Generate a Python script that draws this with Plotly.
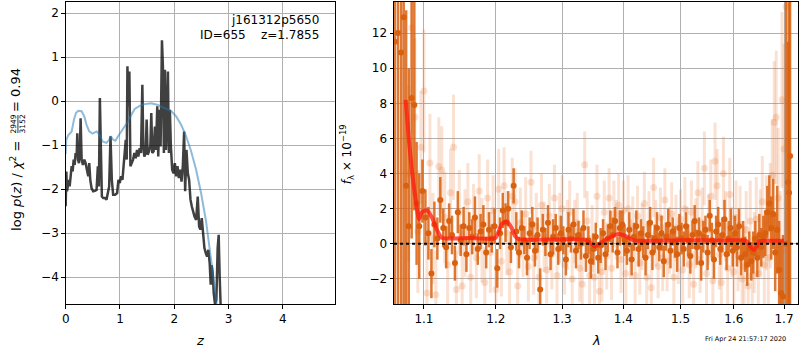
import plotly.graph_objects as go

# ---------------- Left panel: log p(z) ----------------
z_pz = [0.000, 0.012, 0.024, 0.043, 0.061, 0.073, 0.092, 0.110, 0.128, 0.147,
        0.165, 0.183, 0.202, 0.214, 0.226, 0.245, 0.263, 0.275, 0.294, 0.318,
        0.343, 0.367, 0.391, 0.416, 0.434, 0.453, 0.477, 0.508, 0.538, 0.569,
        0.593, 0.612, 0.630, 0.648, 0.667, 0.691, 0.722, 0.752, 0.783, 0.801,
        0.826, 0.850, 0.875, 0.911, 0.948, 0.972, 0.997, 1.021, 1.046, 1.070,
        1.089, 1.107, 1.125, 1.138, 1.156, 1.174, 1.193, 1.217, 1.242, 1.266,
        1.291, 1.315, 1.339, 1.364, 1.388, 1.413, 1.431, 1.450, 1.474, 1.492,
        1.511, 1.535, 1.560, 1.578, 1.596, 1.621, 1.645, 1.664, 1.688, 1.706,
        1.731, 1.749, 1.774, 1.792, 1.810, 1.829, 1.847, 1.865, 1.884, 1.902,
        1.920, 1.939, 1.963, 1.988, 2.012, 2.037, 2.061, 2.086, 2.110, 2.135,
        2.159, 2.183, 2.202, 2.226, 2.251, 2.275, 2.300, 2.324, 2.349, 2.373,
        2.404, 2.434, 2.459, 2.483, 2.508, 2.532, 2.557, 2.581, 2.606, 2.630,
        2.654, 2.673, 2.691, 2.710, 2.728, 2.752, 2.777, 2.801, 2.820, 2.838,
        2.856, 2.893]
logp = [-2.39, -1.60, -2.05, -1.90, -1.79, -1.94, -1.64, -1.48, -1.60, -1.33,
        -1.45, -1.18, -1.26, -0.73, -1.33, -1.41, -1.03, -0.39, -1.33, -1.45,
        -1.33, -1.41, -1.56, -1.71, -1.41, -1.79, -1.98, -2.05, -2.04, -2.02,
        -1.48, -1.94, 0.07, -0.88, -2.17, -2.20, -2.20, -2.24, -2.09, -1.94,
        -0.80, -1.79, -2.13, -2.13, -2.09, -1.79, -1.86, -1.71, -1.79, -1.48,
        -1.26, -0.88, -1.33, 0.79, -0.12, 0.67, -1.48, -1.41, -1.33, -1.18,
        -1.30, -1.11, -1.26, -1.07, -1.18, 0.37, -1.03, -1.26, -1.18, -0.42,
        -1.22, -1.14, -1.03, -0.27, -1.18, -1.14, -0.58, -1.11, -0.12, -1.26,
        -0.20, -1.03, 1.38, 0.79, -1.18, 0.71, -1.11, -0.58, 0.67, -1.18,
        -0.20, -1.03, -1.56, -1.64, -1.41, -1.71, -1.48, -1.75, -1.56, -1.83,
        -1.48, -0.69, -2.05, -1.11, -1.64, -1.79, -2.24, -2.39, -2.55, -2.62,
        -2.70, -2.17, -2.85, -2.92, -2.66, -3.00, -3.34, -3.45, -3.53, -3.38,
        -3.68, -4.17, -3.73, -3.91, -4.36, -4.61, -4.52, -3.34, -3.04, -3.98,
        -4.97, -6.00]

z_prior = [0.000, 0.012, 0.049, 0.110, 0.153, 0.190, 0.232, 0.294, 0.343, 0.385,
           0.434, 0.495, 0.569, 0.630, 0.679, 0.752, 0.801, 0.832, 0.875, 0.917,
           0.966, 1.028, 1.089, 1.150, 1.211, 1.272, 1.364, 1.456, 1.578, 1.700,
           1.823, 1.945, 2.037, 2.128, 2.220, 2.312, 2.404, 2.495, 2.587, 2.661,
           2.728, 2.789, 2.862]
logp_prior = [-1.20, -0.88, -0.77, -0.69, -0.42, -0.27, -0.22, -0.23, -0.35, -0.54,
              -0.69, -0.74, -0.69, -0.77, -0.92, -0.95, -0.88, -0.80, -0.88, -0.90,
              -0.80, -0.69, -0.58, -0.46, -0.31, -0.18, -0.11, -0.07, -0.05, -0.09,
              -0.16, -0.23, -0.35, -0.54, -0.80, -1.14, -1.56, -2.09, -2.73, -3.38,
              -4.06, -4.67, -5.35]

# ---------------- Right panel: spectrum ----------------
# light (low weight) points
lam_light = [1.080, 1.084, 1.088, 1.092, 1.096, 1.100, 1.104, 1.108, 1.112, 1.116,
             1.120, 1.124, 1.128, 1.132, 1.136, 1.140, 1.144, 1.148, 1.152, 1.156,
             1.160, 1.164, 1.168, 1.172, 1.176, 1.180, 1.184, 1.188, 1.192, 1.196,
             1.200, 1.204, 1.208, 1.212, 1.216, 1.220, 1.224, 1.228, 1.232, 1.236,
             1.240, 1.244, 1.248, 1.252, 1.256, 1.260, 1.264, 1.268, 1.272, 1.276,
             1.280, 1.284, 1.288, 1.292, 1.296, 1.300, 1.304, 1.308, 1.312, 1.316,
             1.320, 1.324, 1.328, 1.332, 1.336, 1.340, 1.344, 1.348, 1.352, 1.356,
             1.360, 1.364, 1.368, 1.372, 1.376, 1.380, 1.384, 1.388, 1.392, 1.396,
             1.400, 1.404, 1.408, 1.412, 1.416, 1.420, 1.424, 1.428, 1.432, 1.436,
             1.440, 1.444, 1.448, 1.452, 1.456, 1.460, 1.464, 1.468, 1.472, 1.476,
             1.480, 1.484, 1.488, 1.492, 1.496, 1.500, 1.504, 1.508, 1.512, 1.516,
             1.520, 1.524, 1.528, 1.532, 1.536, 1.540, 1.544, 1.548, 1.552, 1.556,
             1.560, 1.564, 1.568, 1.572, 1.576, 1.580, 1.584, 1.588, 1.592, 1.596,
             1.600, 1.604, 1.608, 1.612, 1.616, 1.620, 1.624, 1.628, 1.632, 1.636,
             1.640, 1.644, 1.648, 1.652, 1.656, 1.660, 1.664, 1.668, 1.672, 1.676,
             1.680, 1.684, 1.688, 1.692, 1.696, 1.700, 1.704]
flux_light = [4.0, 12.3, 7.2, 0.7, 5.5, 8.7, -2.8, 4.6, 0.3, -2.9,
              4.4, 4.2, 1.5, -1.2, 2.9, 5.5, -2.6, 1.8, -2.4, 0.6,
              2.4, -1.9, 1.4, -0.8, 3.0, 0.2, -2.2, 2.6, -0.5, 1.9,
              -2.6, 3.1, -1.0, 3.3, 0.6, -1.6, 2.7, 2.4, -2.4, 1.2,
              0.0, 1.7, -1.3, 3.5, -0.8, 1.0, -1.9, 2.2, 0.4, -1.5,
              1.6, -0.6, 2.6, -1.8, 0.9, 2.0, -1.2, 0.5, 1.8, -2.0,
              0.7, 1.2, -1.4, -2.3, 4.5, 1.3, -1.8, 0.3, -1.9, 2.7,
              -2.7, -1.6, 1.8, -0.7, 2.6, -1.4, 1.7, 0.8, 2.2, -0.9,
              1.9, -1.7, 2.0, -0.3, 0.9, -1.8, 1.6, -1.1, 0.4, 2.3,
              -1.9, 1.1, -2.5, 3.2, 0.6, -1.3, 1.5, -0.8, 2.5, -1.0,
              0.2, 1.7, -1.9, 0.9, -0.5, 1.4, -1.5, 2.0, 0.4, -1.2,
              1.8, -2.3, 0.6, 2.9, -0.9, 1.2, 4.3, -1.7, 0.8, 2.7,
              -2.1, 4.7, 3.3, -0.6, -2.2, 4.0, 1.0, -1.4, 2.8, 0.1,
              -1.6, 1.5, -0.7, 1.1, -2.0, -1.3, 0.8, -2.4, 1.3, -1.8,
              -0.5, 1.4, -1.7, 0.6, 2.4, -1.2, 1.2, -0.8, 1.6, 3.9,
              6.9, 7.2, 2.6, -1.5, 8.2, 5.4, 13.5]
err_light = [5.0, 6.0, 4.5, 3.5, 3.2, 3.5, 3.0, 2.8, 2.6, 2.5,
             2.8, 2.5, 2.6, 2.4, 2.5, 3.0, 2.2, 2.4, 2.3, 2.5,
             2.2, 2.4, 2.0, 2.3, 2.1, 2.4, 2.0, 2.2, 2.3, 2.0,
             2.1, 2.3, 2.0, 2.2, 2.4, 2.0, 2.2, 1.9, 2.1, 2.0,
             1.9, 2.1, 2.0, 1.8, 2.1, 1.9, 2.0, 1.8, 2.0, 1.9,
             1.8, 2.0, 1.9, 1.8, 2.0, 1.9, 1.7, 2.0, 1.8, 1.9,
             1.8, 1.7, 1.9, 1.8, 1.9, 1.7, 1.8, 1.9, 1.7, 1.8,
             1.9, 1.7, 1.8, 1.9, 1.7, 1.8, 1.9, 1.7, 1.8, 1.9,
             1.7, 1.8, 1.9, 1.7, 1.8, 1.9, 1.7, 1.8, 1.9, 1.8,
             1.7, 1.9, 1.8, 1.7, 1.9, 1.8, 1.7, 1.9, 1.8, 1.7,
             1.9, 1.8, 1.7, 1.9, 1.8, 1.7, 1.9, 1.8, 1.7, 1.9,
             1.8, 1.9, 2.0, 1.8, 1.9, 2.0, 2.1, 1.9, 2.0, 2.1,
             2.0, 2.2, 2.1, 2.0, 2.2, 2.1, 2.0, 2.2, 2.1, 2.0,
             2.2, 2.1, 2.0, 2.2, 2.1, 2.3, 2.2, 2.1, 2.3, 2.2,
             2.3, 2.4, 2.2, 2.5, 2.6, 2.4, 2.7, 2.8, 3.0, 3.2,
             3.5, 3.8, 4.0, 4.5, 5.0, 6.0, 8.0]

# dark (main) points
lam_dark = [1.062, 1.066, 1.070, 1.0734, 1.0766, 1.080, 1.0838, 1.0873, 1.0903, 1.0938,
            1.098, 1.102, 1.106, 1.110, 1.114, 1.118, 1.122, 1.126, 1.130, 1.134,
            1.138, 1.142, 1.146, 1.150, 1.154, 1.158, 1.162, 1.166, 1.170, 1.174,
            1.178, 1.182, 1.186, 1.190, 1.194, 1.198, 1.202, 1.206, 1.210, 1.214,
            1.218, 1.222, 1.226, 1.230, 1.234, 1.238, 1.242, 1.246, 1.250, 1.254,
            1.258, 1.262, 1.266, 1.270, 1.274, 1.278, 1.282, 1.286, 1.290, 1.294,
            1.298, 1.302, 1.306, 1.310, 1.314, 1.318, 1.322, 1.326, 1.330, 1.334,
            1.338, 1.342, 1.346, 1.350, 1.354, 1.358, 1.362, 1.366, 1.370, 1.374,
            1.378, 1.382, 1.386, 1.390, 1.394, 1.398, 1.402, 1.406, 1.410, 1.414,
            1.418, 1.422, 1.426, 1.430, 1.434, 1.438, 1.442, 1.446, 1.450, 1.454,
            1.458, 1.462, 1.466, 1.470, 1.474, 1.478, 1.482, 1.486, 1.490, 1.494,
            1.498, 1.502, 1.506, 1.510, 1.514, 1.518, 1.522, 1.526, 1.530, 1.534,
            1.538, 1.542, 1.546, 1.550, 1.554, 1.558, 1.562, 1.566, 1.570, 1.574,
            1.578, 1.582, 1.586, 1.590, 1.594, 1.598, 1.602, 1.606, 1.610, 1.614,
            1.618, 1.622, 1.626, 1.630, 1.634, 1.638, 1.642, 1.646, 1.650, 1.654,
            1.658, 1.662, 1.666, 1.670, 1.674, 1.678, 1.682, 1.686, 1.690, 1.694,
            1.698, 1.7045, 1.7085, 1.7104, 1.7125]
flux_dark = [11.5, 12.0, 10.9, 12.9, 3.3, 1.0, 8.3, 7.9, 2.3, 1.0,
             3.0, 1.5, 0.6, -1.7, 1.1, 0.3, 2.5, 0.9, -0.2, 1.3,
             0.5, -1.1, 1.8, 0.2, 1.0, -0.6, 0.9, 0.4, 1.5, -0.3,
             0.7, 1.1, -0.5, 0.8, 0.3, 1.0, -1.4, 0.6, 1.9, 1.2,
             2.0, -0.2, 3.3, 0.7, -0.5, 0.9, 0.2, -0.8, 0.6, 1.1,
             -0.4, 0.5, -2.6, 0.8, 0.1, 1.2, -0.6, 0.4, 0.9, -0.3,
             0.6, 0.2, -0.9, 0.8, 0.3, 1.1, -0.4, 0.5, 0.0, 0.9,
             -0.7, 0.2, -1.0, -0.3, 0.4, -0.8, -0.1, 0.6, -0.6, 0.3,
             1.0, 0.5, 1.3, -0.5, 0.9, 1.1, 0.2, -0.4, 0.8, -0.9,
             0.4, 1.0, -0.3, 0.6, 0.1, -0.8, 0.5, 1.2, -0.5, 0.3,
             0.9, -0.2, 0.6, -1.0, 0.4, 1.1, -0.4, 0.7, 0.1, -0.6,
             0.9, 0.3, -0.3, 1.0, 0.2, -0.7, 0.5, 1.3, -0.2, 0.6,
             -1.1, 0.4, 0.8, -0.5, 1.6, 0.2, -0.9, 0.7, 1.1, -0.3,
             0.5, 1.4, -0.6, 0.3, 0.9, -0.4, 0.6, -0.2, 1.0, -0.8,
             0.2, -0.6, -1.2, -0.3, -1.0, -0.5, 0.3, -0.8, 0.5, -0.2,
             0.4, 0.6, 1.8, 2.3, 0.9, 1.7, -0.5, 0.8, -1.5, -2.8,
             -3.0, 0.0, 3.5, 2.9, 5.0]
err_dark = [20, 20, 15, 18, 10, 9, 8, 6, 3.5, 3.0,
            1.8, 1.6, 1.5, 1.4, 1.3, 1.2, 1.3, 1.1, 1.2, 1.0,
            1.1, 1.0, 1.2, 0.9, 1.1, 1.0, 0.9, 1.0, 1.2, 0.9,
            1.0, 1.1, 0.9, 1.0, 0.8, 1.0, 1.1, 0.9, 1.0, 1.1,
            1.0, 0.9, 1.0, 1.1, 0.9, 1.0, 0.8, 1.0, 0.9, 1.0,
            0.9, 1.0, 1.2, 0.9, 0.8, 1.0, 0.9, 1.0, 0.8, 0.9,
            1.0, 0.8, 0.9, 1.0, 0.8, 0.9, 1.0, 0.8, 0.9, 1.0,
            0.9, 0.8, 1.0, 0.9, 0.8, 0.9, 1.0, 0.8, 0.9, 0.8,
            0.9, 1.0, 0.8, 0.9, 1.0, 0.8, 0.9, 0.8, 1.0, 0.9,
            0.8, 0.9, 1.0, 0.8, 0.9, 1.0, 0.8, 0.9, 1.0, 0.8,
            0.9, 0.8, 1.0, 0.9, 0.8, 0.9, 1.0, 0.8, 0.9, 1.0,
            0.8, 0.9, 1.0, 0.8, 0.9, 1.0, 0.8, 0.9, 1.0, 0.9,
            1.0, 0.9, 0.8, 1.0, 0.9, 1.0, 1.1, 0.9, 1.0, 0.9,
            1.0, 1.1, 0.9, 1.0, 1.1, 0.9, 1.0, 1.1, 1.0, 1.0,
            1.1, 1.0, 1.2, 1.0, 1.1, 1.2, 1.0, 1.1, 1.2, 1.1,
            1.2, 1.3, 1.5, 1.6, 1.8, 2.0, 2.2, 2.5, 2.8, 3.0,
            3.5, 15, 8, 13, 20]

# best-fit model
lam_model = [1.0760, 1.0802, 1.0843, 1.0891, 1.0934, 1.0974, 1.1040, 1.1107, 1.1174, 1.1241,
             1.160, 1.199, 1.204, 1.209, 1.216, 1.223, 1.228, 1.233, 1.290, 1.337,
             1.345, 1.353, 1.366, 1.380, 1.392, 1.403, 1.409, 1.417, 1.500, 1.580,
             1.624, 1.632, 1.639, 1.645, 1.650, 1.670, 1.700]
flux_model = [8.2, 5.9, 4.1, 2.5, 1.4, 1.8, 1.9, 1.5, 0.8, 0.35,
              0.33, 0.33, 0.70, 1.15, 1.27, 0.90, 0.45, 0.27, 0.25, 0.23,
              0.05, -0.15, 0.15, 0.40, 0.55, 0.45, 0.35, 0.20, 0.20, 0.19,
              0.17, -0.15, -0.34, -0.15, 0.15, 0.17, 0.17]

# text
target = "j161312p5650"
obj_id = 655
z_best = 1.7855
chi2_num, chi2_den, chi2_red = 2949, 3152, 0.94
timestamp = "Fri Apr 24 21:57:17 2020"

# ---------------- Figure ----------------
W, H = 800, 350
def PX(x):
    return x / W
def PY(y):
    return 1 - y / H

ORANGE = "rgb(217,96,14)"
ORANGE_BAR = "rgba(217,96,14,0.85)"
ORANGE_LIGHT = "rgba(230,120,50,0.22)"

fig = go.Figure()

fig.add_trace(go.Scatter(x=z_pz, y=logp, mode="lines",
                         line=dict(color="rgba(0,0,0,0.75)", width=2.5),
                         xaxis="x", yaxis="y", hoverinfo="skip"))
fig.add_trace(go.Scatter(x=z_prior, y=logp_prior, mode="lines",
                         line=dict(color="rgba(31,119,180,0.5)", width=2),
                         xaxis="x", yaxis="y", hoverinfo="skip"))

fig.add_trace(go.Scatter(x=lam_light, y=flux_light, mode="markers",
                         marker=dict(color=ORANGE_LIGHT, size=7, line=dict(width=0)),
                         error_y=dict(type="data", array=err_light, visible=True,
                                      color=ORANGE_LIGHT, thickness=3, width=0),
                         xaxis="x2", yaxis="y2", hoverinfo="skip"))
fig.add_trace(go.Scatter(x=lam_dark, y=flux_dark, mode="markers",
                         marker=dict(color=ORANGE, size=6, line=dict(width=0)),
                         error_y=dict(type="data", array=err_dark, visible=True,
                                      color=ORANGE_BAR, thickness=2.5, width=0),
                         xaxis="x2", yaxis="y2", hoverinfo="skip"))
fig.add_trace(go.Scatter(x=lam_model, y=flux_model, mode="lines",
                         line=dict(color="rgba(255,25,15,0.75)", width=4, shape="spline",
                                   smoothing=0.6),
                         xaxis="x2", yaxis="y2", hoverinfo="skip"))

fig.add_shape(type="line", xref="x2 domain", x0=0, x1=1, yref="y2", y0=0, y1=0,
              line=dict(color="black", width=2, dash="dot"), layer="above")

axis_common = dict(showline=True, linecolor="black", linewidth=1, mirror=True,
                   ticks="outside", ticklen=3.5, tickwidth=1, tickcolor="black",
                   showgrid=True, gridcolor="#b0b0b0", gridwidth=1, zeroline=False,
                   tickfont=dict(family="DejaVu Sans", size=12, color="black"))

ydom = [46 / H, 348 / H]
fig.update_layout(
    width=W, height=H, margin=dict(l=0, r=0, t=0, b=0),
    paper_bgcolor="white", plot_bgcolor="white", showlegend=False,
    font=dict(family="DejaVu Sans", size=12, color="black"),
    xaxis=dict(domain=[62 / W, 333 / W], anchor="y", range=[0, 4.97],
               tickvals=[0, 1, 2, 3, 4], ticktext=["0", "1", "2", "3", "4"], **axis_common),
    yaxis=dict(domain=ydom, anchor="x", range=[-4.61, 2.25],
               tickvals=[-4, -3, -2, -1, 0, 1, 2],
               ticktext=["\u22124", "\u22123", "\u22122", "\u22121", "0", "1", "2"], **axis_common),
    xaxis2=dict(domain=[392 / W, 798 / W], anchor="y2", type="log", range=[0.0257, 0.2378],
                tickvals=[1.1, 1.2, 1.3, 1.4, 1.5, 1.6, 1.7],
                ticktext=["1.1", "1.2", "1.3", "1.4", "1.5", "1.6", "1.7"], **axis_common),
    yaxis2=dict(domain=ydom, anchor="x2", range=[-3.43, 13.77],
                tickvals=[-2, 0, 2, 4, 6, 8, 10, 12],
                ticktext=["\u22122", "0", "2", "4", "6", "8", "10", "12"], **axis_common),
)

ann = []
def add_text(text, x, y, size=12, xanchor="center", yanchor="middle", angle=0):
    ann.append(dict(text=text, x=PX(x), y=PY(y), xref="paper", yref="paper",
                    showarrow=False, xanchor=xanchor, yanchor=yanchor, textangle=angle,
                    font=dict(family="DejaVu Sans", size=size, color="black")))

# x titles
add_text("<i>z</i>", 197.5, 340, size=13)
add_text("<i>λ</i>", 595, 340, size=13)
# right y title
add_text("<i>f</i><sub>λ</sub> × 10<sup>\u221219</sup>", 345, 154, size=12, angle=-90)
# left y title pieces
add_text("log <i>p</i>(<i>z</i>) / <i>χ</i><sup>2</sup> =", 12, 186, size=13, angle=-90)
add_text(str(chi2_num), 9.5, 124, size=7.5, angle=-90)
add_text(str(chi2_den), 18.5, 124, size=7.5, angle=-90)
add_text("= %.2f" % chi2_red, 12, 90, size=13, angle=-90)
fig.add_shape(type="line", xref="paper", yref="paper", x0=PX(14), x1=PX(14),
              y0=PY(115), y1=PY(133), line=dict(color="black", width=0.8))
# labels
add_text(target, 319, 20, size=12, xanchor="right")
add_text("ID=%d\u00a0\u00a0\u00a0\u00a0z=%.4f" % (obj_id, z_best), 319, 35, size=12, xanchor="right")
add_text(timestamp, 788, 339, size=6.5, xanchor="right")

fig.update_layout(annotations=ann)
fig.write_html("out.html", config={"displayModeBar": False},
               post_script="document.body.style.margin='0';document.body.style.padding='0';"
                           "document.body.style.overflow='hidden';")
